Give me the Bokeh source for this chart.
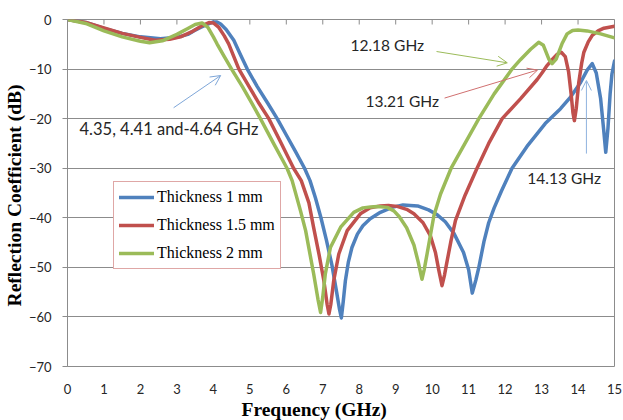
import math
from bokeh.plotting import figure
from bokeh.models import (Range1d, FixedTicker, Label, Arrow, OpenHead, Title)
from bokeh.embed import file_html
from bokeh.resources import INLINE

# ---------------- data ----------------
x_1mm = [0, 0.5, 1, 1.5, 2, 2.55, 3.0, 3.3, 3.46, 3.65, 3.83, 4.0, 4.1, 4.2, 4.35, 4.56, 4.75,
         4.93, 5.2, 5.5, 5.75, 6.0, 6.25, 6.5, 6.65, 6.8, 6.95, 7.1, 7.25, 7.38, 7.46, 7.51,
         7.56, 7.62, 7.7, 7.8, 7.95, 8.1, 8.3, 8.58, 8.9, 9.2, 9.6, 9.9, 10.14, 10.36, 10.6,
         10.86, 11.0, 11.1, 11.2, 11.28, 11.42, 11.55, 11.7, 11.9, 12.19, 12.6, 13.1, 13.52,
         13.8, 14.07, 14.25, 14.39, 14.5, 14.62, 14.7, 14.76, 14.82, 14.88, 14.93, 15.0]
y_1mm = [0, -0.6, -1.8, -2.8, -3.5, -3.9, -3.6, -3.0, -2.3, -1.6, -1.0, -0.5, -0.5, -0.9, -2.0,
         -4.2, -7.2, -10, -13.5, -17, -20, -23.3, -26.6, -30, -32.5, -36, -40, -44.5, -49.5,
         -55, -58.5, -60.2, -57, -52.7, -49, -46, -43.3, -41.6, -40.2, -38.9, -37.9, -37.4,
         -37.6, -38.4, -39.4, -40.8, -43.2, -47, -50.5, -55.2, -52.5, -50, -44.8, -41, -38,
         -34.6, -30, -25.6, -21, -18, -15.6, -12.7, -10.2, -8.9, -10.8, -16, -22, -26.8, -22,
         -15, -11, -8.4]

x_15mm = [0, 0.5, 1, 1.5, 2, 2.4, 2.8, 3.1, 3.4, 3.65, 3.88, 4.0, 4.15, 4.3, 4.42, 4.55, 4.7,
          5.0, 5.25, 5.52, 5.85, 6.2, 6.41, 6.62, 6.75, 6.9, 7.03, 7.12, 7.17, 7.22, 7.3, 7.44,
          7.67, 8.03, 8.3, 8.58, 8.8, 9.04, 9.3, 9.5, 9.75, 9.95, 10.09, 10.18, 10.27, 10.34,
          10.39, 10.52, 10.64, 10.9, 11.23, 11.55, 11.92, 12.42, 12.88, 13.02, 13.15, 13.3,
          13.43, 13.54, 13.65, 13.74, 13.81, 13.86, 13.9, 13.95, 14.02, 14.1, 14.16, 14.28,
          14.39, 14.55, 14.71, 15.0]
y_15mm = [0, -0.6, -1.7, -2.8, -3.6, -4.2, -4.0, -3.5, -2.5, -1.4, -0.6, -0.7, -1.6, -3.3,
          -4.9, -7.3, -10, -13.8, -16.9, -20, -24.8, -30, -32.5, -37, -42, -47.5, -52.7,
          -57.5, -59.4, -57.5, -52.7, -47.3, -42.6, -39.2, -38.0, -37.6, -37.5, -37.7, -38.3,
          -39.2, -41, -43.6, -47, -50.5, -53.7, -51.5, -49.5, -44.5, -40.5, -35.5, -30, -25,
          -20, -16, -12.1, -10.7, -9.3, -8.0, -7.0, -6.6, -7.5, -10.5, -15, -18.8, -20.4,
          -18, -12.7, -8.8, -6.6, -4.5, -3.2, -2.3, -1.75, -1.35]

x_2mm = [0, 0.5, 1, 1.5, 2, 2.25, 2.6, 3.0, 3.3, 3.5, 3.69, 3.85, 4.0, 4.1, 4.3, 4.5, 4.8,
         5.05, 5.29, 5.65, 6.02, 6.16, 6.39, 6.53, 6.75, 6.87, 6.94, 7.0, 7.07, 7.21, 7.49,
         7.85, 8.1, 8.31, 8.5, 8.77, 8.95, 9.1, 9.3, 9.5, 9.62, 9.72, 9.78, 9.86, 10.05,
         10.23, 10.52, 10.9, 11.28, 11.7, 12.19, 12.42, 12.7, 12.92, 13.05, 13.2, 13.29,
         13.4, 13.56, 13.7, 13.85, 14.0, 14.25, 14.62, 15.0]
y_2mm = [0, -0.8, -2.3, -3.5, -4.4, -4.7, -4.3, -3.0, -1.8, -1.0, -0.7, -1.6, -3.5, -4.9,
         -7.5, -10, -13.6, -16.8, -20, -25, -30, -32.5, -38.6, -42.6, -51.3, -56.5, -59.1,
         -56, -51.3, -46, -41.9, -38.9, -38.0, -37.8, -37.7, -37.9, -38.6, -39.8, -42,
         -45.5, -49, -52.4, -50.5, -47.3, -39.5, -35.2, -30, -25, -20, -15, -10, -8.1, -6.0,
         -4.6, -5.2, -8.0, -8.9, -8.0, -4.9, -2.9, -2.2, -2.1, -2.3, -2.9, -3.7]

series_names = ["Thickness 1 mm", "Thickness 1.5 mm", "Thickness 2 mm"]
series_colors = ["#4f81bd", "#c0504d", "#9bbb59"]

x_ticks = list(range(0, 16))
y_ticks = [-70, -60, -50, -40, -30, -20, -10, 0]

# ---------------- figure ----------------
GRAY = "#8c8c8c"
TICK_FONT = "Lato"
X_MIN, X_MAX, Y_MIN, Y_MAX = 0, 15, -70, 0

p = figure(width=623, height=420, output_backend="svg", toolbar_location=None,
           x_range=Range1d(X_MIN, X_MAX), y_range=Range1d(Y_MIN, Y_MAX),
           min_border_left=67, min_border_right=9, min_border_top=19, min_border_bottom=54)
p.background_fill_color = "white"
p.border_fill_color = "white"
p.outline_line_color = GRAY
p.outline_line_width = 1

p.xgrid.visible = False
p.ygrid.grid_line_color = GRAY
p.ygrid.grid_line_width = 1
p.ygrid.ticker = FixedTicker(ticks=y_ticks)

# bottom axis: labels only
xa = p.xaxis[0]
xa.ticker = FixedTicker(ticks=x_ticks)
xa.axis_line_color = None
xa.major_tick_line_color = None
xa.minor_tick_line_color = None
xa.major_tick_out = 0
xa.major_tick_in = 0
xa.major_label_standoff = 17
xa.major_label_text_font = TICK_FONT
xa.major_label_text_font_size = "13px"
xa.major_label_text_color = "#262626"

# x-axis title, shifted left of the frame centre like the original
p.add_layout(Title(text="Frequency (GHz)", align="left", offset=174, standoff=0,
                   text_font="Liberation Serif", text_font_style="bold",
                   text_font_size="19.5px", text_color="black"), "below")

# inward tick marks along the 0 dB axis line (top edge)
p.scatter(x_ticks, [Y_MAX] * len(x_ticks), marker="dash", size=10, angle=math.pi / 2,
          line_color=GRAY, line_width=1)

ya = p.yaxis[0]
ya.ticker = FixedTicker(ticks=y_ticks)
ya.axis_line_color = GRAY
ya.major_tick_line_color = GRAY
ya.minor_tick_line_color = None
ya.major_tick_out = 5
ya.major_tick_in = 0
ya.major_label_standoff = 11
ya.major_label_text_font = TICK_FONT
ya.major_label_text_font_size = "13px"
ya.major_label_text_color = "#262626"
ya.axis_label = "Reflection  Coefficient (dB)"
ya.axis_label_text_font = "Liberation Serif"
ya.axis_label_text_font_style = "bold"
ya.axis_label_text_font_size = "19.5px"
ya.axis_label_text_color = "black"
ya.axis_label_standoff = 1

# curves
for xs, ys, name, col in zip([x_1mm, x_15mm, x_2mm], [y_1mm, y_15mm, y_2mm],
                             series_names, series_colors):
    p.line(xs, ys, line_color=col, line_width=3.5, legend_label=name,
           line_join="round", line_cap="round")

# legend
lg = p.legend[0]
lg.location = (46, 97)
lg.label_text_font = "Liberation Serif"
lg.label_text_font_size = "16px"
lg.label_text_color = "black"
lg.border_line_color = "#c0504d"
lg.border_line_width = 1
lg.background_fill_color = "white"
lg.background_fill_alpha = 1
lg.glyph_width = 35
lg.glyph_height = 20
lg.label_height = 20
lg.spacing = 8
lg.padding = 5
lg.label_standoff = 3
lg.margin = 0

# annotations
ANN_FONT = "Lato"
def add_text(x, y, t, size="15.5px"):
    p.add_layout(Label(x=x, y=y, text=t, text_align="left", text_baseline="middle",
                       text_font=ANN_FONT, text_font_size=size, text_color="#262626"))

def add_arrow(x0, y0, x1, y1, col):
    p.add_layout(Arrow(end=OpenHead(size=10, line_color=col, line_width=1),
                       x_start=x0, y_start=y0, x_end=x1, y_end=y1,
                       line_color=col, line_width=1))

add_text(0.33, -22.0, "4.35, 4.41 and-4.64 GHz", "16.5px")
add_arrow(2.91, -17.8, 4.2, -11.3, "#7ea6d8")

add_text(7.76, -5.05, "12.18 GHz")
add_arrow(10.12, -6.46, 12.06, -8.74, "#9bbb59")

add_text(8.17, -16.35, "13.21 GHz")
add_arrow(10.34, -15.85, 12.89, -10.2, "#d07070")

add_text(12.61, -31.9, "14.13 GHz")
add_arrow(14.23, -27.05, 14.23, -12.3, "#8fb3de")

open("out.html", "w").write(file_html(p, INLINE))
